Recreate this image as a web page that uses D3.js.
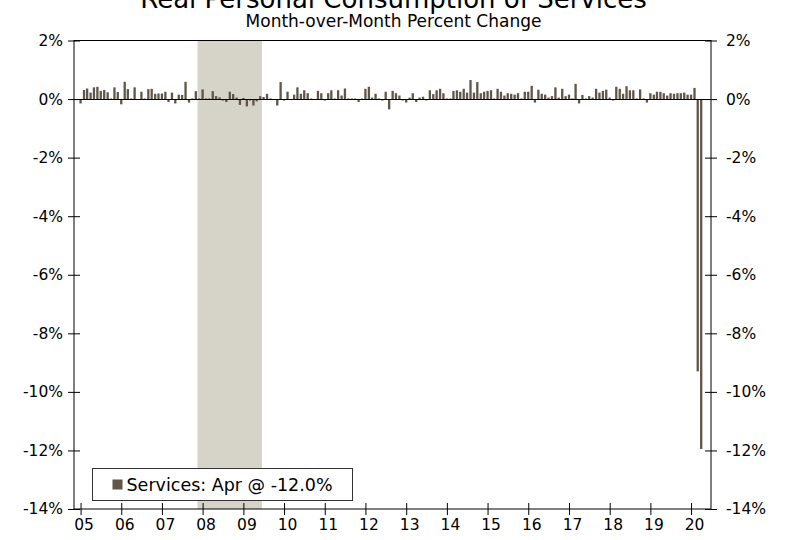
<!DOCTYPE html>
<html>
<head>
<meta charset="utf-8">
<script src="https://cdn.jsdelivr.net/npm/d3@7"></script>
<style>
  body { margin: 0; background: #fff; }
  text { font-family: "DejaVu Sans", Verdana, sans-serif; fill: #000; }
</style>
</head>
<body>
<div id="chart"></div>
<script>
// monthly % change, Jan 2005 .. Apr 2020 (one array per year)
var y2005 = [-0.15, 0.31, 0.36, 0.22, 0.40, 0.42, 0.28, 0.31, 0.23, 0.02, 0.40, 0.24];
var y2006 = [-0.18, 0.59, 0.34, 0.02, 0.40, -0.03, 0.25, 0.02, 0.34, 0.35, 0.18, 0.19];
var y2007 = [0.19, 0.25, -0.10, 0.22, -0.15, 0.15, 0.14, 0.59, -0.12, 0.02, 0.27, 0.02];
var y2008 = [0.33, 0.02, 0.02, 0.27, 0.10, 0.06, -0.05, -0.10, 0.25, 0.17, 0.05, -0.20];
var y2009 = [0.04, -0.25, -0.05, -0.22, -0.08, 0.10, 0.07, 0.18, 0.02, 0.00, -0.22, 0.58];
var y2010 = [-0.05, 0.25, -0.03, 0.15, 0.40, 0.18, 0.30, 0.20, 0.02, 0.00, 0.28, 0.20];
var y2011 = [-0.05, 0.20, 0.30, 0.02, 0.30, 0.12, 0.36, 0.02, 0.02, 0.02, -0.10, 0.02];
var y2012 = [0.35, 0.42, 0.05, 0.18, 0.02, -0.05, 0.25, -0.35, 0.28, 0.20, 0.12, -0.05];
var y2013 = [-0.12, 0.05, 0.20, -0.10, 0.05, 0.08, -0.05, 0.30, 0.17, 0.30, 0.35, 0.20];
var y2014 = [0.02, 0.02, 0.28, 0.30, 0.25, 0.35, 0.22, 0.65, 0.22, 0.58, 0.20, 0.25];
var y2015 = [0.28, 0.30, 0.02, 0.35, 0.25, 0.12, 0.20, 0.18, 0.15, 0.20, 0.02, 0.25];
var y2016 = [0.25, 0.45, -0.12, 0.32, 0.18, 0.15, 0.05, 0.10, 0.40, 0.05, 0.35, 0.10];
var y2017 = [0.15, 0.02, 0.52, -0.15, 0.14, 0.02, 0.10, 0.05, 0.35, 0.22, 0.28, 0.32];
var y2018 = [0.05, -0.05, 0.42, 0.35, 0.18, 0.44, 0.30, 0.30, 0.02, 0.33, 0.02, -0.12];
var y2019 = [0.20, 0.15, 0.25, 0.25, 0.20, 0.12, 0.20, 0.18, 0.20, 0.20, 0.22, 0.15];
var y2020 = [0.15, 0.38, -9.30, -11.95];

var services = [].concat(y2005, y2006, y2007, y2008, y2009, y2010, y2011, y2012,
	y2013, y2014, y2015, y2016, y2017, y2018, y2019, y2020);

var yTicks = [2, 0, -2, -4, -6, -8, -10, -12, -14];
var recession = [new Date(2007, 11, 1), new Date(2009, 5, 1)];
var legendLabel = "Services: Apr @ -12.0%";

var width = 787, height = 540;
var plotLeft = 74, plotRight = 711, plotTop = 40.5, plotBottom = 509;

var svg = d3.select("#chart").append("svg")
	.attr("width", width)
	.attr("height", height);

var data = services.map(function(v, i) {
	return { date: new Date(2005, i, 1), value: v };
});

var x = d3.scaleTime()
	.domain([new Date(2004, 10, 3), new Date(2020, 5, 28)])
	.range([plotLeft, plotRight]);
var y = d3.scaleLinear()
	.domain([-14, 2])
	.range([plotBottom, plotTop]);

var halfMonth = 1.7;

// recession shading
svg.append("rect")
	.attr("x", x(recession[0]) - halfMonth)
	.attr("y", plotTop)
	.attr("width", x(recession[1]) - x(recession[0]) + 2 * halfMonth)
	.attr("height", plotBottom - plotTop)
	.style("fill", "#d6d3c8");

// bars
var barW = 2.3;
svg.selectAll(".bar")
	.data(data)
	.enter().append("rect")
	.attr("class", "bar")
	.attr("x", function(d) { return x(d.date) - barW / 2; })
	.attr("y", function(d) { return y(Math.max(0, d.value)); })
	.attr("width", barW)
	.attr("height", function(d) { return Math.abs(y(d.value) - y(0)); })
	.style("fill", "#5f5549");

// zero line
svg.append("line")
	.attr("x1", plotLeft).attr("x2", plotRight)
	.attr("y1", Math.round(y(0)) + 0.5).attr("y2", Math.round(y(0)) + 0.5)
	.style("stroke", "#000");

// frame
svg.append("rect")
	.attr("x", plotLeft).attr("y", plotTop)
	.attr("width", plotRight - plotLeft).attr("height", plotBottom - plotTop)
	.style("fill", "none")
	.style("stroke", "#000");

function pct(d) { return d + "%"; }

// left axis
var gl = svg.append("g")
	.attr("transform", "translate(" + plotLeft + ",0)")
	.call(d3.axisLeft(y).tickValues(yTicks).tickFormat(pct).tickSize(6).tickPadding(5));
gl.select(".domain").remove();
gl.selectAll(".tick line").attr("x1", -6).attr("x2", 6).style("stroke", "#000");
gl.selectAll(".tick text").style("font-size", "15.5px");

// right axis
var gr = svg.append("g")
	.attr("transform", "translate(" + plotRight + ",0)")
	.call(d3.axisRight(y).tickValues(yTicks).tickFormat(pct).tickSize(6).tickPadding(9));
gr.select(".domain").remove();
gr.selectAll(".tick line").attr("x1", -6).attr("x2", 6).style("stroke", "#000");
gr.selectAll(".tick text").style("font-size", "15.5px");

// bottom axis
var gb = svg.append("g")
	.attr("transform", "translate(0," + plotBottom + ")")
	.call(d3.axisBottom(x).ticks(d3.timeYear.every(1)).tickFormat(d3.timeFormat("%y")).tickSize(6).tickPadding(4));
gb.select(".domain").remove();
gb.selectAll(".tick line").attr("y1", -6).attr("y2", 6).style("stroke", "#000");
gb.selectAll(".tick text").attr("dx", 3).style("font-size", "15.5px");

// titles
svg.append("text")
	.attr("x", width / 2).attr("y", 8)
	.attr("text-anchor", "middle")
	.style("font-size", "26px")
	.text("Real Personal Consumption of Services");
svg.append("text")
	.attr("x", width / 2).attr("y", 27)
	.attr("text-anchor", "middle")
	.style("font-size", "17px")
	.text("Month-over-Month Percent Change");

// legend
var lg = svg.append("g").attr("transform", "translate(92.5,468.5)");
lg.append("rect")
	.attr("width", 260).attr("height", 32)
	.style("fill", "#fff")
	.style("stroke", "#333");
lg.append("rect")
	.attr("x", 20).attr("y", 11)
	.attr("width", 10).attr("height", 10)
	.style("fill", "#5f5549");
lg.append("text")
	.attr("x", 34).attr("y", 22)
	.style("font-size", "17.5px")
	.text(legendLabel);
</script>
</body>
</html>
